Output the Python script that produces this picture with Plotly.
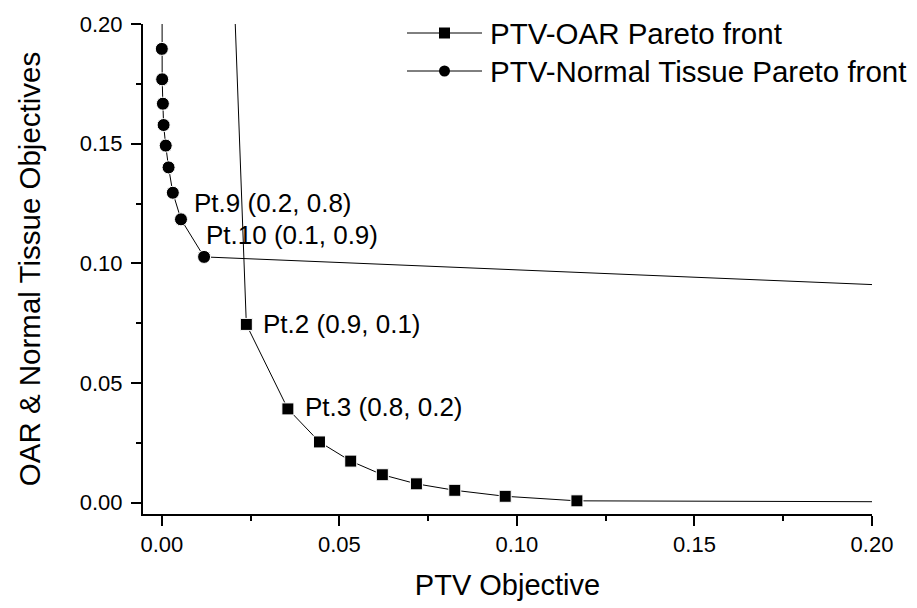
import plotly.graph_objects as go

# ---------------- data ----------------
# PTV-OAR Pareto front (squares); first and last points lie outside the visible range
oar_x = [0.0157, 0.0238, 0.0355, 0.0444, 0.0532, 0.0621, 0.0717, 0.0825, 0.0967, 0.1169, 0.30]
oar_y = [0.40, 0.0745, 0.0392, 0.0254, 0.0174, 0.0117, 0.0079, 0.0052, 0.0027, 0.0008, 0.0]

# PTV-Normal Tissue Pareto front (circles)
nt_x = [0.0, 0.0, 0.0001, 0.0003, 0.0005, 0.0011, 0.0019, 0.0031, 0.0054, 0.0119, 0.30]
nt_y = [0.30, 0.1896, 0.1769, 0.1667, 0.1578, 0.1492, 0.1401, 0.1295, 0.1184, 0.1027, 0.0850]

series_names = ["PTV-OAR Pareto front", "PTV-Normal Tissue Pareto front"]

# point labels: (text, series, index)
point_labels = [
    ("Pt.9 (0.2, 0.8)", "nt", 8),
    ("Pt.10 (0.1, 0.9)", "nt", 9),
    ("Pt.2 (0.9, 0.1)", "oar", 1),
    ("Pt.3 (0.8, 0.2)", "oar", 2),
]

tick_vals = [0.00, 0.05, 0.10, 0.15, 0.20]
tick_text = ["0.00", "0.05", "0.10", "0.15", "0.20"]

x_title = "PTV Objective"
y_title = "OAR & Normal Tissue Objectives"

# ---------------- style ----------------
FONT = "Liberation Sans, Arial, sans-serif"
W, H = 917, 608
ML, MR, MT, MB = 143, 45, 24, 94
label_offsets = [(11, 16), (0, 22), (15, 0), (15, 2)]  # px right, px up

fig = go.Figure()

fig.add_trace(go.Scatter(
    x=oar_x, y=oar_y, mode="lines+markers", name=series_names[0],
    line=dict(color="black", width=1),
    marker=dict(symbol="square", size=12, color="black", line=dict(color="white", width=1)),
    showlegend=False,
))
fig.add_trace(go.Scatter(
    x=nt_x, y=nt_y, mode="lines+markers", name=series_names[1],
    line=dict(color="black", width=1),
    marker=dict(symbol="circle", size=13, color="black", line=dict(color="white", width=1)),
    showlegend=False,
))

series = {"oar": (oar_x, oar_y), "nt": (nt_x, nt_y)}
for (txt, s, i), (dx, dy) in zip(point_labels, label_offsets):
    xs, ys = series[s]
    fig.add_annotation(x=xs[i], y=ys[i], xref="x", yref="y", text=txt, showarrow=False,
                       xanchor="left", yanchor="middle", xshift=dx, yshift=dy,
                       font=dict(family=FONT, size=26, color="black"))

# ---- manual legend (pixel positions converted to paper coords) ----
PW, PH = W - ML - MR, H - MT - MB
def px(xp):
    return (xp - ML) / PW
def py(yp):
    return (H - MB - yp) / PH

legend_rows = [(33, "square"), (71, "circle")]
for (yrow, sym), name in zip(legend_rows, series_names):
    fig.add_shape(type="line", xref="paper", yref="paper",
                  x0=px(407), x1=px(482), y0=py(yrow), y1=py(yrow),
                  line=dict(color="black", width=1))
    fig.add_shape(type="rect" if sym == "square" else "circle",
                  xref="paper", yref="paper", xsizemode="pixel", ysizemode="pixel",
                  xanchor=px(444.5), yanchor=py(yrow), x0=-5.5, x1=5.5, y0=-5.5, y1=5.5,
                  fillcolor="black", line=dict(color="black", width=0))
    fig.add_annotation(x=px(488), y=py(yrow), xref="paper", yref="paper", text=name,
                       showarrow=False, xanchor="left", yanchor="middle",
                       font=dict(family=FONT, size=29.5, color="black"))

axis_common = dict(
    tickvals=tick_vals, ticktext=tick_text, ticks="outside", ticklen=10, tickwidth=2,
    tickcolor="black", showline=True, linewidth=2, linecolor="black",
    showgrid=False, zeroline=False, mirror=False,
    tickfont=dict(family=FONT, size=22, color="black"),
    minor=dict(tickvals=[0.025, 0.075, 0.125, 0.175], ticks="outside", ticklen=5,
               tickwidth=2, tickcolor="black", showgrid=False),
)

fig.update_xaxes(range=[-0.0053, 0.20], ticklabelstandoff=0,
                 title=dict(text=x_title, standoff=18,
                            font=dict(family=FONT, size=29, color="black")), **axis_common)
fig.update_yaxes(range=[-0.0047, 0.20], ticklabelstandoff=4,
                 title=dict(text=y_title, standoff=30,
                            font=dict(family=FONT, size=29.5, color="black")), **axis_common)

fig.update_layout(
    width=W, height=H, margin=dict(l=ML, r=MR, t=MT, b=MB, autoexpand=False),
    paper_bgcolor="white", plot_bgcolor="white", showlegend=False,
    font=dict(family=FONT, color="black"),
)

fig.write_html("out.html")
